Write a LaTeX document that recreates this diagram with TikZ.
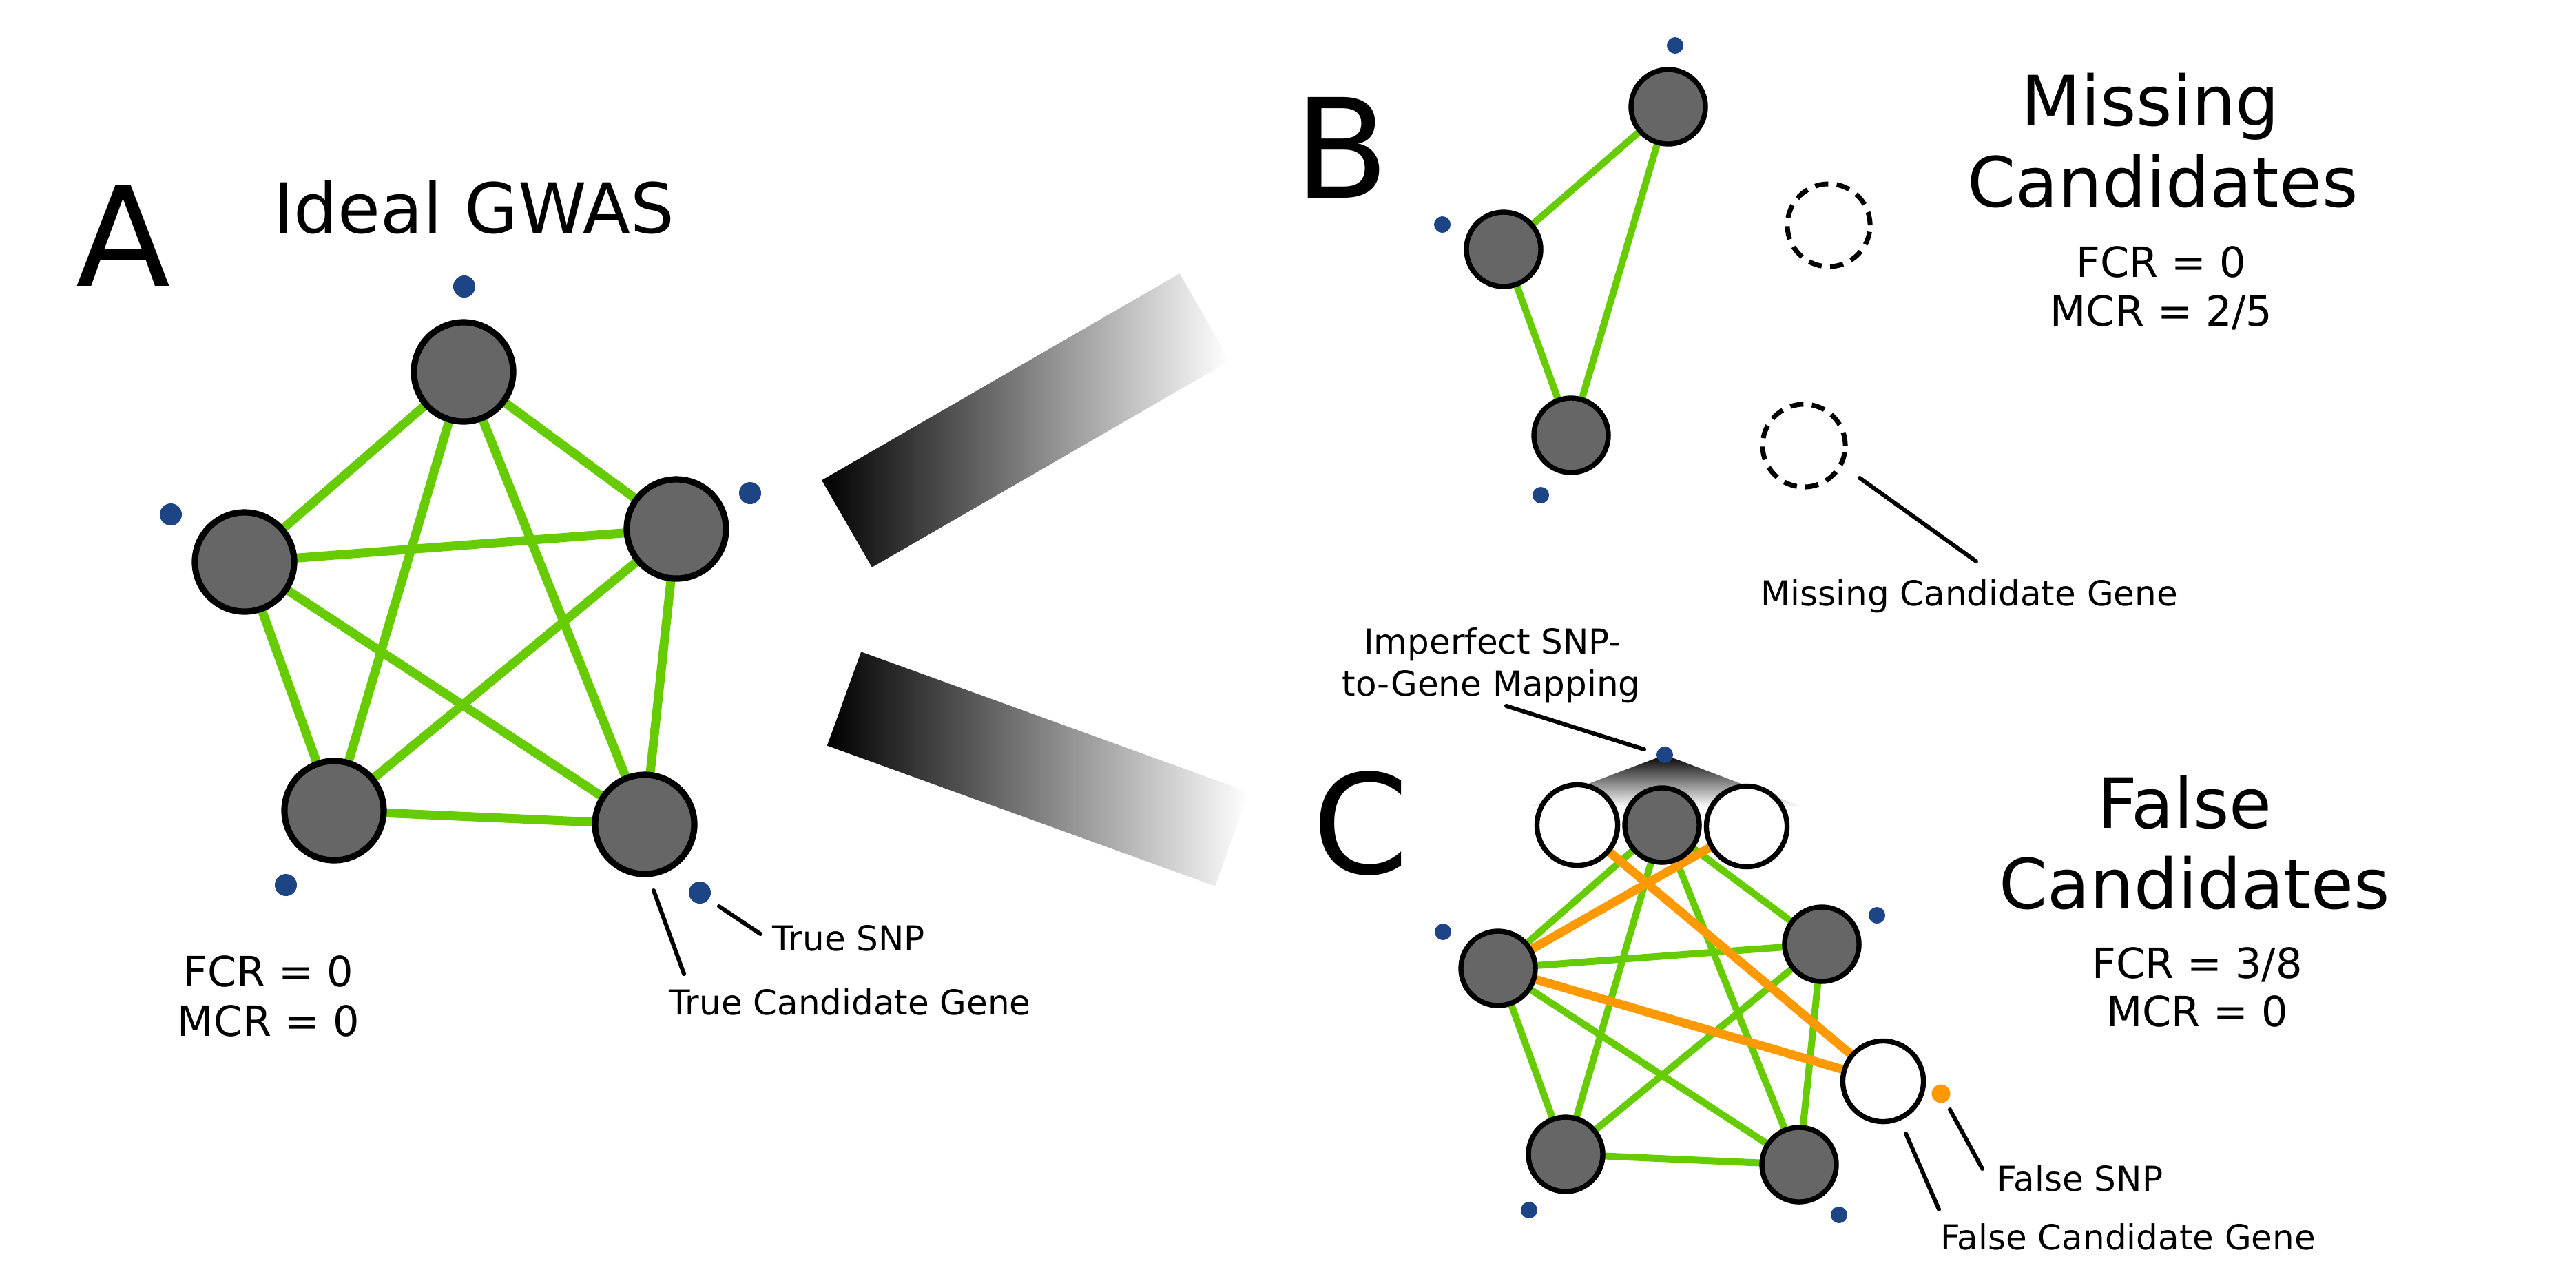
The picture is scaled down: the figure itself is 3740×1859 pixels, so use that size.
\documentclass[tikz,border=0pt]{standalone}
\usepackage{fontspec}
\setmainfont{DejaVu Sans}
\usetikzlibrary{positioning,backgrounds}
\tikzset{>=latex}
\definecolor{genegrey}{HTML}{666666}
\definecolor{edgegreen}{HTML}{66CC00}
\definecolor{snpblue}{HTML}{1D4586}
\definecolor{falseorange}{HTML}{FF9900}
\tikzset{
  geneA/.style={circle,draw=black,fill=genegrey,line width=2.6pt,minimum size=1.44cm,inner sep=0pt},
  gene/.style={circle,draw=black,fill=genegrey,line width=2.1pt,minimum size=1.08cm,inner sep=0pt},
  falsegene/.style={circle,draw=black,fill=white,line width=2.1pt,minimum size=1.17cm,inner sep=0pt},
  missgene/.style={circle,draw=black,dash pattern=on 5.5pt off 3.5pt,line width=2pt,minimum size=1.2cm,inner sep=0pt},
  snpA/.style={circle,fill=snpblue,minimum size=0.32cm,inner sep=0pt},
  snp/.style={circle,fill=snpblue,minimum size=0.24cm,inner sep=0pt},
  falsesnp/.style={circle,fill=falseorange,minimum size=0.27cm,inner sep=0pt},
  linkA/.style={edgegreen,line width=3.7pt},
  link/.style={edgegreen,line width=2.85pt},
  falselink/.style={falseorange,line width=3.6pt},
  leader/.style={black,line width=1.7pt,line cap=round},
  panel/.style={inner sep=0pt,anchor=base,font=\fontsize{57}{68}\selectfont},
  heading/.style={inner sep=0pt,anchor=base,font=\fontsize{28.6}{34}\selectfont},
  rate/.style={inner sep=0pt,anchor=base,font=\fontsize{17.2}{21}\selectfont},
  note/.style={inner sep=0pt,anchor=base west,font=\fontsize{14.2}{17}\selectfont},
}

\begin{document}
\begin{tikzpicture}[x=0.01cm,y=-0.01cm]
\useasboundingbox (0,0) rectangle (3740,1859);

% panel A
\node[panel] (lblA) at (179,415){A};
\node[heading] (headA) at (688,338){Ideal GWAS};

\node[geneA] (a1) at (673,540){};
\node[geneA] (a2) at (355,816){};
\node[geneA] (a3) at (982,768){};
\node[geneA] (a4) at (485,1177){};
\node[geneA] (a5) at (936,1197){};

\node[snpA] (sa1) at (674,416){};
\node[snpA] (sa2) at (248,747){};
\node[snpA] (sa3) at (1089,716){};
\node[snpA] (sa4) at (415,1285){};
\node[snpA] (sa5) at (1016,1296){};

\begin{pgfonlayer}{background}
\draw[linkA] (a1.center) --(a2.center);
\draw[linkA] (a1.center) --(a3.center);
\draw[linkA] (a1.center) --(a4.center);
\draw[linkA] (a1.center) --(a5.center);
\draw[linkA] (a2.center) --(a3.center);
\draw[linkA] (a2.center) --(a4.center);
\draw[linkA] (a2.center) --(a5.center);
\draw[linkA] (a3.center) --(a4.center);
\draw[linkA] (a3.center) --(a5.center);
\draw[linkA] (a4.center) --(a5.center);
\end{pgfonlayer}

\coordinate (tsnp1) at (1044,1316);
\coordinate (tsnp2) at (1104,1356);
\coordinate (tgene1) at (949,1293);
\coordinate (tgene2) at (993,1414);
\draw[leader] (tsnp1) --(tsnp2);
\draw[leader] (tgene1) --(tgene2);
\node[note] (noteTS) at (1121,1380){True SNP};
\node[note] (noteTG) at (971,1473){True Candidate Gene};

\node[rate] (fcrA) at (390,1432){FCR = 0};
\node[rate] (mcrA) at (390,1504){MCR = 0};

% arrows to B and C
\begin{scope}[shift={(1229.5,760.5)},rotate=30]
\shade[left color=black,right color=white] (0,-73) rectangle (600,73);
\end{scope}
\begin{scope}[shift={(1225.5,1014.5)},rotate=-19.9]
\shade[left color=black,right color=white] (0,-72.5) rectangle (599,72.5);
\end{scope}

% panel B
\node[panel] (lblB) at (1948,287){B};
\node[heading] (headB1) at (3122,182){Missing};
\node[heading] (headB2) at (3140,300){Candidates};

\node[gene] (b1) at (2422,155){};
\node[gene] (b2) at (2183,362){};
\node[gene] (b3) at (2281,632){};
\node[snp] (sb1) at (2432,66){};
\node[snp] (sb2) at (2094,326){};
\node[snp] (sb3) at (2237,719){};

\node[missgene] (m1) at (2655,327){};
\node[missgene] (m2) at (2619,647){};

\begin{pgfonlayer}{background}
\draw[link] (b1.center) --(b2.center);
\draw[link] (b1.center) --(b3.center);
\draw[link] (b2.center) --(b3.center);
\end{pgfonlayer}

\coordinate (mgene1) at (2700,694);
\coordinate (mgene2) at (2869,815);
\draw[leader] (mgene1) --(mgene2);
\node[note] (noteMG) at (2556,879){Missing Candidate Gene};

\node[rate] (fcrB) at (3138,402){FCR = 0};
\node[rate] (mcrB) at (3138,473){MCR = 2/5};

% panel C
\node[panel] (lblC) at (1975,1268){C};
\node[heading] (headC1) at (3172,1202){False};
\node[heading] (headC2) at (3186,1319){Candidates};

\node[falsegene] (w1) at (2290,1198){};
\node[falsegene] (w2) at (2536,1200){};
\node[gene] (c0) at (2413,1198){};
\node[gene] (c1) at (2175,1406){};
\node[gene] (c2) at (2645,1371){};
\node[gene] (c3) at (2273,1676){};
\node[gene] (c4) at (2612,1691){};
\node[falsegene] (f1) at (2734,1570){};

\node[snp] (sc0) at (2417,1096){};
\node[snp] (sc1) at (2095,1353){};
\node[snp] (sc2) at (2725,1329){};
\node[snp] (sc3) at (2220,1757){};
\node[snp] (sc4) at (2670,1764){};
\node[falsesnp] (sf1) at (2818,1588){};

\begin{pgfonlayer}{background}
\shade[top color=black,bottom color=white] (sc0.center) -- (2216,1172) -- (2618,1172) -- cycle;
\draw[link] (c0.center) --(c1.center);
\draw[link] (c0.center) --(c2.center);
\draw[link] (c0.center) --(c3.center);
\draw[link] (c0.center) --(c4.center);
\draw[link] (c1.center) --(c2.center);
\draw[link] (c1.center) --(c3.center);
\draw[link] (c1.center) --(c4.center);
\draw[link] (c2.center) --(c3.center);
\draw[link] (c2.center) --(c4.center);
\draw[link] (c3.center) --(c4.center);
\draw[falselink] (w1.center) --(f1.center);
\draw[falselink] (w2.center) --(c1.center);
\draw[falselink] (c1.center) --(f1.center);
\end{pgfonlayer}

\coordinate (imap1) at (2187,1025);
\coordinate (imap2) at (2387,1088);
\draw[leader] (imap1) --(imap2);
\node[note,anchor=base] (noteIM1) at (2167,949){Imperfect SNP-};
\node[note,anchor=base] (noteIM2) at (2165,1010){to-Gene Mapping};

\coordinate (fsnp1) at (2831,1611);
\coordinate (fsnp2) at (2878,1697);
\coordinate (fgene1) at (2767,1646);
\coordinate (fgene2) at (2815,1756);
\draw[leader] (fsnp1) --(fsnp2);
\draw[leader] (fgene1) --(fgene2);
\node[note] (noteFS) at (2899,1729){False SNP};
\node[note] (noteFG) at (2817,1814){False Candidate Gene};

\node[rate] (fcrC) at (3190,1420){FCR = 3/8};
\node[rate] (mcrC) at (3190,1490){MCR = 0};

\end{tikzpicture}
\end{document}
